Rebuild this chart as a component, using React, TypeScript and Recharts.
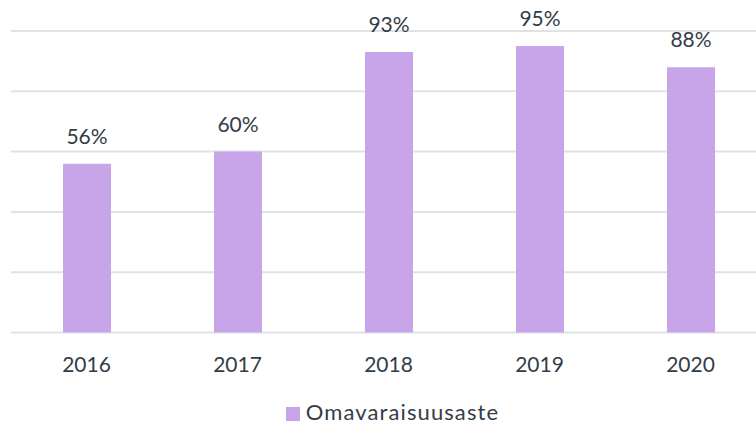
import React from 'react';
import { BarChart, Bar, XAxis, YAxis, CartesianGrid, Legend, LabelList } from 'recharts';

const years = ['2016', '2017', '2018', '2019', '2020'];
const omavaraisuusaste = [56, 60, 93, 95, 88];
const yTicks = [0, 20, 40, 60, 80, 100];

const data = years.map((year, i) => ({ year, value: omavaraisuusaste[i] }));

const FONT = 'Lato, "Open Sans", sans-serif';
const TEXT = '#333d47';

export default function App() {
  return (
    <div style={{ position: 'absolute', left: 0, top: 0, width: 756, height: 425, overflow: 'hidden', background: '#fff' }}>
      <BarChart
        width={770}
        height={425}
        data={data}
        margin={{ top: 31, right: 4, left: 11, bottom: 0 }}
        style={{ fontFamily: FONT }}
      >
        <CartesianGrid vertical={false} stroke="#dfe3e7" strokeWidth={2} />
        <XAxis
          dataKey="year"
          axisLine={false}
          tickLine={false}
          tickMargin={18.5}
          height={65.5}
          tick={{ fontSize: 21, fill: TEXT }}
        />
        <YAxis hide domain={[0, 100]} ticks={yTicks} />
        <Legend
          verticalAlign="bottom"
          iconType="square"
          iconSize={14}
          wrapperStyle={{ fontSize: 22, color: TEXT, letterSpacing: 1.1, paddingLeft: 9 }}
          formatter={(v) => <span style={{ color: TEXT, marginLeft: 2 }}>{v}</span>}
        />
        <Bar dataKey="value" name="Omavaraisuusaste" fill="#c8a5e9" barSize={48} isAnimationActive={false}>
          <LabelList
            dataKey="value"
            position="top"
            offset={20}
            formatter={(v: number) => `${v}%`}
            style={{ fontSize: 21, fill: TEXT }}
          />
        </Bar>
      </BarChart>
    </div>
  );
}
